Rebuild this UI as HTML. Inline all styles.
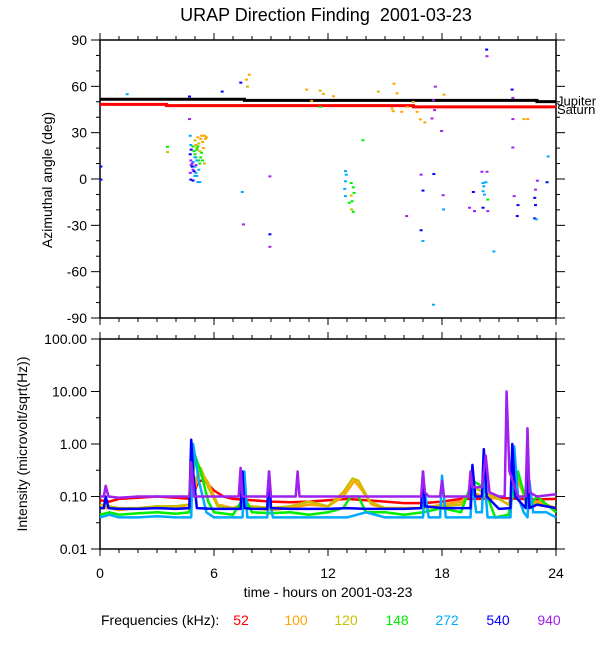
<!DOCTYPE html>
<html><head><meta charset="utf-8"><style>
body{margin:0;background:#fff;}
svg{display:block;font-family:"Liberation Sans",Arial,sans-serif;}
</style></head><body>
<svg id="c" width="600" height="650" xmlns="http://www.w3.org/2000/svg">
<rect width="600" height="650" fill="#fff"/>
<text x="326" y="21" font-size="18" text-anchor="middle" xml:space="preserve">URAP Direction Finding  2001-03-23</text>
<text transform="translate(52,180) rotate(-90)" font-size="14" text-anchor="middle">Azimuthal angle (deg)</text>
<text transform="translate(27,444) rotate(-90)" font-size="14" text-anchor="middle">Intensity (microvolt/sqrt(Hz))</text>
<text x="328" y="597" font-size="14" text-anchor="middle">time - hours on 2001-03-23</text>
<g id="legend"><text x="101" y="625" font-size="14">Frequencies (kHz):</text></g>
<g id="topPanel"></g>
<g id="botPanel"></g>
</svg>
<script>
const freqs=["52","100","120","148","272","540","940"];
const colors=["#ff0000","#ffa500","#cdbd00","#00ee00","#00aaff","#0000ff","#a020f0"];
const angleTicks=[90,60,30,0,-30,-60,-90];
const timeTicks=[0,6,12,18,24];
const intTicks=[100,10,1,0.1,0.01];
const intTickLabels=["100.00","10.00","1.00","0.10","0.01"];
// Planet positions [t, angle]
const jupiterT=[0,7.6,7.6,23,23,24];
const jupiterA=[51.6,51.6,50.9,50.9,50.1,50.1];
const saturnT=[0,3.5,3.5,16.5,16.5,24];
const saturnA=[48.3,48.3,47.5,47.5,46.7,46.7];
// DF points: [hour, angle, freqIndex]
const dfPoints=[[0.05,8.1,5],[0.05,-0.4,5],[1.43,54.9,4],[4.71,53.4,5],[4.71,38.8,6],[3.55,20.8,3],[3.55,17.4,2],
[4.75,28,4],[4.78,22,4],[4.8,19,5],[4.75,16,5],[4.78,12,6],[4.8,9,6],[4.85,8,5],[4.75,4,6],[4.78,-0.4,5],[4.9,-1,5],
[4.9,21,3],[4.95,18,3],[5.0,25,2],[5.05,22,1],[5.1,20,2],[5.15,27,1],[5.2,23,2],[5.3,26,1],[5.35,28,1],[5.4,24,1],[5.5,28,1],[5.55,26,1],[5.6,27,1],[5.45,20,1],[5.25,18,2],[5.5,10,2],
[5.0,16,3],[5.05,14,3],[5.1,19,3],[5.2,12,3],[5.3,14,3],[5.35,17,3],[5.4,12,3],[5.15,21,3],[5.25,10,3],
[4.9,11,4],[5.0,8,4],[5.05,4,4],[5.1,2,4],[5.15,-2,4],[5.25,-2,4],[5.2,6,4],[5.0,14,4],[4.95,5,5],[5.05,9,6],[4.85,10,6],[4.9,6,6],[5.0,2,4],[5.1,12,4],
[6.43,56.6,5],[7.41,62.4,5],[7.71,64.3,1],[7.86,67.5,1],[7.76,59.8,2],[7.49,-8.4,4],[7.55,-29.4,6],[8.94,1.7,6],[8.94,-35.8,5],[8.94,-43.9,6],
[10.88,57.9,1],[11.14,50.6,1],[11.59,57.2,2],[11.76,55.1,1],[12.29,53.6,1],[11.59,46.7,3],[13.84,25.1,3],
[12.92,5.1,4],[12.96,2.8,4],[12.92,-1.5,4],[12.88,-6.4,4],[12.92,-11.1,4],[13.22,-2.6,3],[13.33,-5.4,3],[13.37,-9,3],[13.12,-15.4,3],[13.27,-14.4,3],[13.33,-21.2,3],[13.22,-10.7,2],[13.24,-19.7,2],
[14.65,56.6,2],[15.47,61.7,1],[15.63,55.5,1],[15.37,45.6,1],[15.43,43.9,1],[15.88,43.5,1],[16.18,46.7,1],[16.49,49.9,1],[16.69,43.5,1],[16.86,38.6,1],[17.1,36.6,1],
[16.14,-24,6],[16.9,2.8,6],[17.0,-7.5,5],[16.9,-33.2,5],[17.0,-40.1,4],[17.55,51,6],[17.65,59.8,6],[17.61,44.6,6],[17.47,39.2,6],[17.57,3.2,5],[17.55,-81.4,4],
[17.98,31.1,6],[18.06,-10.5,6],[18.08,-19.7,4],[18.1,54.6,1],[19.45,-18.6,6],[19.65,-8.4,5],[19.71,-20.8,6],
[20.16,-2.6,4],[20.2,-4.7,4],[20.16,-7.9,4],[20.24,-10.1,4],[20.31,-2.1,4],[20.1,4.7,6],[20.37,4.7,6],[20.41,-20.8,6],[20.16,-18.6,5],[20.41,-13.3,3],
[20.35,83.8,5],[20.37,79.5,6],[20.73,-46.9,4],[21.69,57.9,5],[21.73,52.5,6],[21.73,38.8,6],[21.73,20.4,6],[21.8,-11.1,6],[22.0,-16.9,5],[21.96,-24,5],
[22.31,38.8,1],[22.51,38.8,1],[22.92,-6.9,6],[22.88,-12.2,5],[22.92,-16.9,5],[22.88,-25.5,5],[22.96,-26.1,4],[23.02,-1.1,6],[23.59,14.6,4],[23.53,-2.1,5]];
// Intensity series: times and values per frequency
const s52T=[0,0.5,1,2,3,4,4.8,5.2,5.5,6,6.5,7,8,9,10,11,12,13,14,15,16,17,18,19,20,21,22,23,24];
const s52V=[0.085,0.08,0.09,0.095,0.1,0.095,0.09,0.2,0.2,0.13,0.1,0.09,0.085,0.08,0.078,0.08,0.085,0.09,0.085,0.08,0.075,0.075,0.08,0.09,0.09,0.095,0.09,0.088,0.09];
const s100T=[0,0.5,1,2,3,4,4.7,5.0,5.3,5.7,6.2,7,7.5,8,9,10,11,12,12.8,13.4,13.8,14.3,15,16,17,18,19,19.6,20.2,21,21.5,22,22.5,23,24];
const s100V=[0.06,0.06,0.055,0.06,0.06,0.06,0.07,0.15,0.3,0.18,0.07,0.06,0.07,0.06,0.055,0.06,0.07,0.065,0.1,0.2,0.13,0.07,0.06,0.06,0.06,0.07,0.08,0.12,0.1,0.09,0.07,0.2,0.07,0.08,0.06];
const s120T=[0,0.5,1,2,3,4,4.7,5.0,5.3,5.7,6.2,7,7.5,8,9,10,11,12,12.8,13.3,13.6,14.2,15,16,17,18,19,19.6,20.2,21,21.5,22,22.5,23,24];
const s120V=[0.07,0.065,0.06,0.06,0.065,0.065,0.07,0.2,0.35,0.15,0.065,0.06,0.065,0.065,0.06,0.065,0.08,0.065,0.12,0.22,0.2,0.08,0.06,0.06,0.06,0.065,0.07,0.15,0.12,0.09,0.07,0.25,0.08,0.07,0.06];
const s148T=[0,0.5,1,2,3,4,4.7,5.0,5.3,5.7,6,7,7.6,8,9,10,11,12,12.8,13.2,13.6,14,15,16,17,18,19,19.6,20.2,20.8,21.5,22,22.5,23,24];
const s148V=[0.045,0.05,0.045,0.048,0.05,0.047,0.05,0.6,0.3,0.08,0.05,0.045,0.1,0.05,0.048,0.05,0.045,0.05,0.06,0.1,0.1,0.05,0.05,0.045,0.05,0.06,0.05,0.2,0.15,0.04,0.045,0.3,0.06,0.1,0.05];
const s272T=[0,0.5,1,2,3,4,4.8,4.9,5.2,5.6,6,7,7.5,7.6,7.75,8,8.8,8.9,9.1,10,11,12,13,14,15,16,17,17.1,17.3,17.9,18,18.2,19,19.5,19.6,19.8,20.1,20.2,20.4,21,21.6,21.8,22.0,22.3,22.5,22.6,22.8,23.5,24];
const s272V=[0.04,0.045,0.04,0.04,0.042,0.04,0.04,1.0,0.2,0.05,0.04,0.04,0.04,0.3,0.04,0.04,0.04,0.1,0.04,0.04,0.04,0.04,0.04,0.05,0.04,0.04,0.04,0.12,0.04,0.04,0.25,0.04,0.04,0.04,0.2,0.05,0.05,0.3,0.04,0.04,0.04,0.9,0.1,0.05,0.04,0.2,0.05,0.05,0.04];
const s540T=[0,0.2,0.3,0.45,1,2,3,4,4.7,4.8,4.9,5.1,6,7,7.4,7.5,7.6,8,8.8,8.9,9.0,10,11,12,13,14,15,16,16.9,17.0,17.1,18,19,19.5,19.6,19.75,20.1,20.2,20.35,21,21.6,21.7,21.85,22.4,22.5,22.6,23,24];
const s540V=[0.06,0.06,0.1,0.06,0.058,0.058,0.06,0.058,0.06,1.2,0.3,0.06,0.058,0.058,0.058,0.3,0.06,0.058,0.058,0.3,0.06,0.058,0.058,0.058,0.06,0.058,0.058,0.058,0.06,0.3,0.065,0.06,0.06,0.06,0.4,0.1,0.1,0.8,0.1,0.058,0.06,1.0,0.1,0.06,0.3,0.06,0.07,0.06];
const s940T=[0,0.2,0.3,0.45,1,2,3,4,4.7,4.8,4.95,6,7,7.3,7.4,7.5,8,8.8,8.9,9.0,10,10.3,10.4,10.5,12,14,15,16,16.9,17.0,17.1,17.3,17.9,18.0,18.1,19,19.4,19.5,19.6,20.1,20.3,20.5,21,21.3,21.4,21.55,22,22.4,22.5,22.6,23,24];
const s940V=[0.1,0.1,0.16,0.1,0.095,0.1,0.1,0.1,0.1,0.45,0.1,0.1,0.1,0.1,0.35,0.1,0.1,0.1,0.3,0.1,0.1,0.1,0.3,0.1,0.1,0.1,0.1,0.1,0.1,0.3,0.12,0.1,0.1,0.2,0.1,0.1,0.1,0.3,0.15,0.15,0.6,0.12,0.1,0.1,10,0.3,0.1,0.1,2,0.12,0.1,0.11];
const seriesT=[s52T,s100T,s120T,s148T,s272T,s540T,s940T];
const seriesV=[s52V,s100V,s120V,s148V,s272V,s540V,s940V];

const NS="http://www.w3.org/2000/svg";
const X0=100,X1=556;
const xS=t=>X0+t/24*(X1-X0);
const T0=40,T1=318;
const yA=a=>T1-(a+90)/180*(T1-T0);
const B0=339,B1=549;
const yI=v=>B1-(Math.log10(v)+2)/4*(B1-B0);
function mk(tag,attrs,parent){const e=document.createElementNS(NS,tag);for(const k in attrs)e.setAttribute(k,attrs[k]);parent.appendChild(e);return e;}
const topG=document.getElementById('topPanel'),botG=document.getElementById('botPanel'),leg=document.getElementById('legend');

function frame(g,y0,y1,name){
  const r=mk('rect',{x:X0,y:y0,width:X1-X0,height:y1-y0,fill:'none',stroke:'#000','stroke-width':1.5},g);
  
  
  for(let h=0;h<=24;h++){
    const len=h%6===0?7:4;
    const t1=mk('line',{x1:xS(h),x2:xS(h),y1:y1,y2:y1+len,stroke:'#000'},g);
    
    
    const t2=mk('line',{x1:xS(h),x2:xS(h),y1:y0,y2:y0-len,stroke:'#000'},g);
    
    
  }
}
// top panel
frame(topG,T0,T1,'direction-plot-frame');
for(let a=-90;a<=90;a+=10){
  const len=a%30===0?9:4;
  const l=mk('line',{x1:X0-len,x2:X0,y1:yA(a),y2:yA(a),stroke:'#000'},topG);
  
  
  const r=mk('line',{x1:X1,x2:X1+len,y1:yA(a),y2:yA(a),stroke:'#000'},topG);
  
  
}
angleTicks.forEach(a=>{
  const t=mk('text',{x:87,y:yA(a)+5,'font-size':14,'text-anchor':'end'},topG);t.textContent=a;
  
  
});
function planet(T,A,color,name){
  let d='';T.forEach((t,i)=>{d+=(i?'L':'M')+xS(t)+','+yA(A[i]);});
  const p=mk('path',{d:d,fill:'none',stroke:color,'stroke-width':3},topG);
  
  
}
planet(saturnT,saturnA,'#ff0000','saturn-line');
planet(jupiterT,jupiterA,'#000','jupiter-line');
const jl=mk('text',{x:557,y:yA(jupiterA[jupiterA.length-1])+4,'font-size':13},topG);jl.textContent='Jupiter';


const sl=mk('text',{x:557,y:yA(saturnA[saturnA.length-1])+7,'font-size':13},topG);sl.textContent='Saturn';


dfPoints.forEach(p=>{
  const r=mk('rect',{x:xS(p[0])-1.5,y:yA(p[1])-1,width:3,height:2,fill:colors[p[2]]},topG);
  
  
});
// bottom panel
frame(botG,B0,B1,'intensity-plot-frame');
for(let e=-2;e<=2;e+=0.5){
  const len=Number.isInteger(e)?9:4;
  const v=Math.pow(10,e);
  const l=mk('line',{x1:X0-len,x2:X0,y1:yI(v),y2:yI(v),stroke:'#000'},botG);
  
  
  const r=mk('line',{x1:X1,x2:X1+len,y1:yI(v),y2:yI(v),stroke:'#000'},botG);
  
  
}
intTicks.forEach((v,i)=>{
  const t=mk('text',{x:87,y:yI(v)+5,'font-size':14,'text-anchor':'end'},botG);t.textContent=intTickLabels[i];
  
  
});
timeTicks.forEach(h=>{
  const t=mk('text',{x:xS(h),y:578,'font-size':14,'text-anchor':'middle'},botG);t.textContent=h;
  
  
});
seriesT.forEach((T,si)=>{
  let d='';T.forEach((t,i)=>{d+=(i?'L':'M')+xS(t).toFixed(1)+','+yI(seriesV[si][i]).toFixed(1);});
  const p=mk('path',{d:d,fill:'none',stroke:colors[si],'stroke-width':2.5,'stroke-linejoin':'round'},botG);
  
  
});
const legX=[241,296,346,397,447,498,549];
freqs.forEach((f,i)=>{
  const t=mk('text',{x:legX[i],y:625,'font-size':14,'text-anchor':'middle',fill:colors[i]},leg);t.textContent=f;
  
  
});
</script>
</body></html>
